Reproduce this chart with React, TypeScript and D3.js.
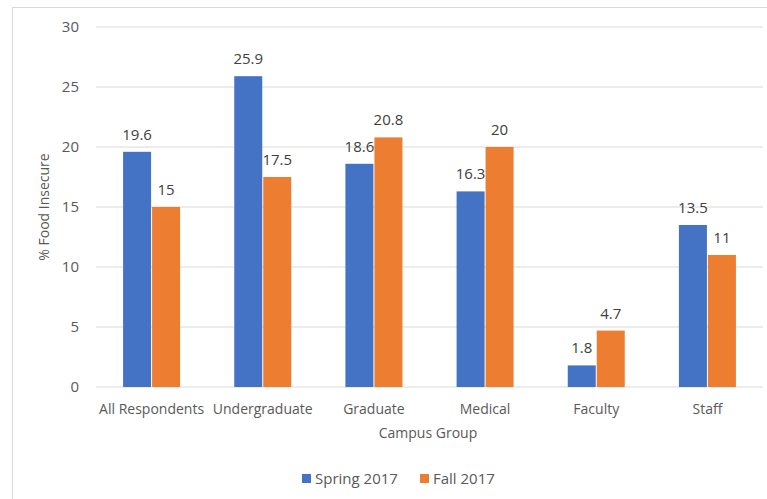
import React from "react";
import * as d3 from "d3";

const categories = ["All Respondents", "Undergraduate", "Graduate", "Medical", "Faculty", "Staff"];
const spring2017 = [19.6, 25.9, 18.6, 16.3, 1.8, 13.5];
const fall2017 = [15, 17.5, 20.8, 20, 4.7, 11];
const seriesNames = ["Spring 2017", "Fall 2017"];
const seriesColors = ["#4472C4", "#ED7D31"];
const yTicks = [0, 5, 10, 15, 20, 25, 30];

const W = 767;
const H = 499;
const FONT = "'Open Sans', 'Liberation Sans', sans-serif";
const TXT = "#595959";

export default function App() {
  const x0 = d3.scaleBand<string>().domain(categories).range([96, 763]).paddingInner(0).paddingOuter(0);
  const y = d3.scaleLinear().domain([0, 30]).range([387, 27]);
  const barW = 28;
  const gap = 1;
  const series = [spring2017, fall2017];

  return (
    <svg width={W} height={H} style={{ position: "absolute", left: 0, top: 0, background: "#fff" }}>
      <rect x={12.5} y={7.5} width={W} height={H} fill="#fff" stroke="#d9d9d9" strokeWidth={1} />
      {yTicks.map((t) => (
        <g key={t}>
          <line x1={96} x2={763} y1={y(t)} y2={y(t)} stroke="#d9d9d9" strokeWidth={1} />
          <text x={79} y={y(t)} dy="0.35em" textAnchor="end" fontFamily={FONT} fontSize={15} fill={TXT}>
            {t}
          </text>
        </g>
      ))}
      {categories.map((c, i) => {
        const cx = (x0(c) as number) + x0.bandwidth() / 2;
        return (
          <g key={c}>
            {series.map((s, si) => {
              const bx = si === 0 ? cx - barW - gap / 2 : cx + gap / 2;
              return (
                <g key={si}>
                  <rect x={bx} y={y(s[i])} width={barW} height={y(0) - y(s[i])} fill={seriesColors[si]} />
                  <text
                    x={bx + barW / 2}
                    y={y(s[i]) - 12}
                    textAnchor="middle"
                    fontFamily={FONT}
                    fontSize={15}
                    fill="#404040"
                  >
                    {s[i]}
                  </text>
                </g>
              );
            })}
            <text x={cx} y={414} textAnchor="middle" fontFamily={FONT} fontSize={14} fill={TXT}>
              {c}
            </text>
          </g>
        );
      })}
      <text x={428} y={438} textAnchor="middle" fontFamily={FONT} fontSize={14} fill={TXT}>
        Campus Group
      </text>
      <text
        transform={`translate(49,${y(15)}) rotate(-90)`}
        textAnchor="middle"
        fontFamily={FONT}
        fontSize={14}
        fill={TXT}
      >
        % Food Insecure
      </text>
      {seriesNames.map((n, i) => {
        const lx = i === 0 ? 302 : 420;
        return (
          <g key={n}>
            <rect x={lx} y={474} width={9} height={9} fill={seriesColors[i]} />
            <text x={lx + 13} y={484} fontFamily={FONT} fontSize={15} fill={TXT}>
              {n}
            </text>
          </g>
        );
      })}
    </svg>
  );
}
